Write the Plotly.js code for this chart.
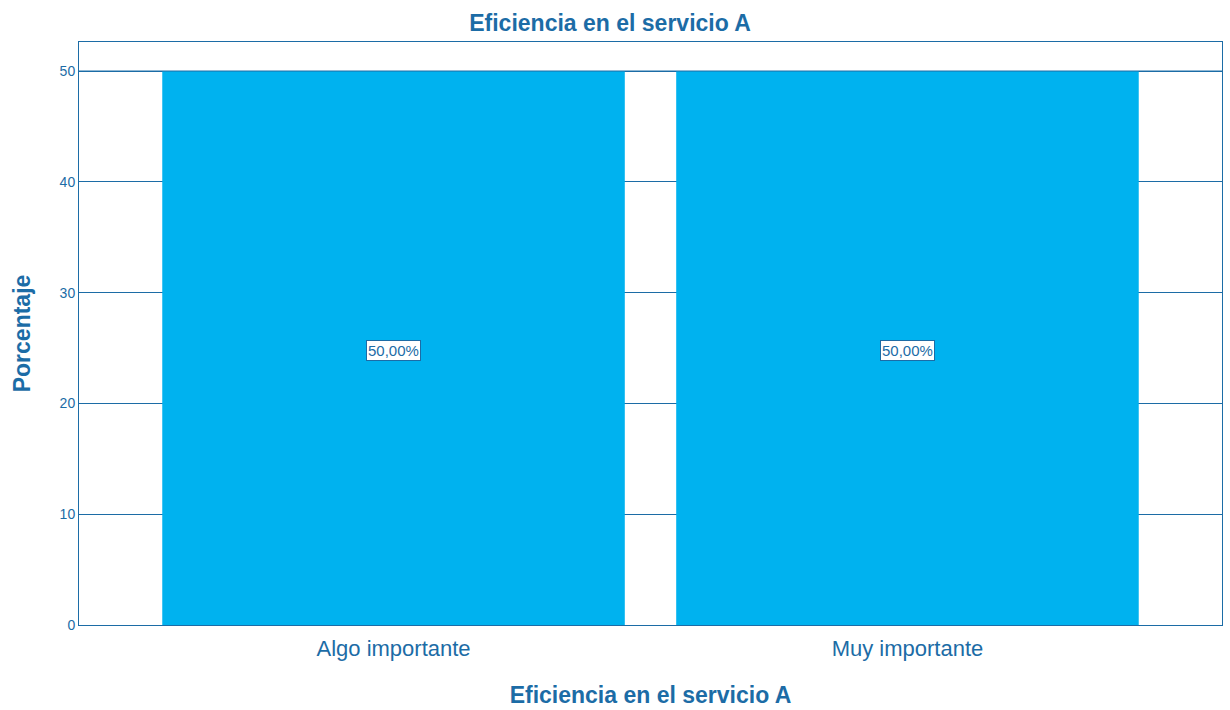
<!DOCTYPE html>
<html>
<head>
<meta charset="utf-8">
<script src="https://cdn.plot.ly/plotly-3.0.1.min.js"></script>
<style>
  html, body { margin: 0; padding: 0; background: #fff; }
  #chart { width: 1230px; height: 710px; }
</style>
</head>
<body>
<div id="chart"></div>
<script>
const categories = ['Algo importante', 'Muy importante'];
const percentages = [50, 50];
const pctLabels = ['50,00%', '50,00%'];
const yTicks = [0, 10, 20, 30, 40, 50];

const blue = '#1c6ca6';
const fontFamily = '"Liberation Sans", Arial, sans-serif';

const trace = {
    type: 'bar',
    x: categories,
    y: percentages,
    width: 0.9,
    marker: { color: '#00b2ef', line: { width: 0 } },
    hoverinfo: 'skip'
};

// value labels sit in the middle of each bar, boxed
const labels = categories.map((cat, i) => ({
    x: cat,
    y: percentages[i] / 2,
    xref: 'x',
    yref: 'y',
    yshift: -2,
    text: pctLabels[i],
    showarrow: false,
    bgcolor: '#fff',
    bordercolor: blue,
    borderwidth: 1,
    borderpad: 1,
    font: { family: fontFamily, size: 15, color: blue }
}));

const layout = {
    width: 1230,
    height: 710,
    margin: { l: 79, r: 8, t: 42, b: 85 },
    paper_bgcolor: '#fff',
    plot_bgcolor: '#fff',
    showlegend: false,
    font: { family: fontFamily, color: blue },
    title: {
        text: '<b>Eficiencia en el servicio A</b>',
        xref: 'container',
        x: 0.496,
        y: 0.968,
        yanchor: 'middle',
        font: { size: 23, color: blue }
    },
    xaxis: {
        range: [-0.612, 1.612],
        showgrid: false,
        showline: true,
        mirror: true,
        linecolor: blue,
        linewidth: 1,
        ticks: '',
        ticklabelstandoff: 4,
        tickfont: { size: 22, color: blue },
        title: {
            text: '<b>Eficiencia en el servicio A</b>',
            standoff: 26,
            font: { size: 23, color: blue }
        }
    },
    yaxis: {
        range: [0, 52.62],
        tickvals: yTicks,
        ticks: '',
        ticklen: 0,
        showgrid: true,
        gridcolor: blue,
        gridwidth: 1,
        zeroline: false,
        showline: true,
        mirror: true,
        linecolor: blue,
        linewidth: 1,
        tickfont: { size: 14, color: blue },
        title: {
            text: '<b>Porcentaje</b>',
            standoff: 22,
            font: { size: 23, color: blue }
        }
    },
    // gridline at the top tick is drawn over the bars in the original
    shapes: [{
        type: 'line',
        xref: 'paper',
        yref: 'y',
        x0: 0,
        x1: 1,
        y0: yTicks[yTicks.length - 1],
        y1: yTicks[yTicks.length - 1],
        layer: 'above',
        line: { color: blue, width: 1 }
    }],
    annotations: labels,
    bargap: 0.1
};

Plotly.newPlot('chart', [trace], layout, { displayModeBar: false, staticPlot: true });
</script>
</body>
</html>
